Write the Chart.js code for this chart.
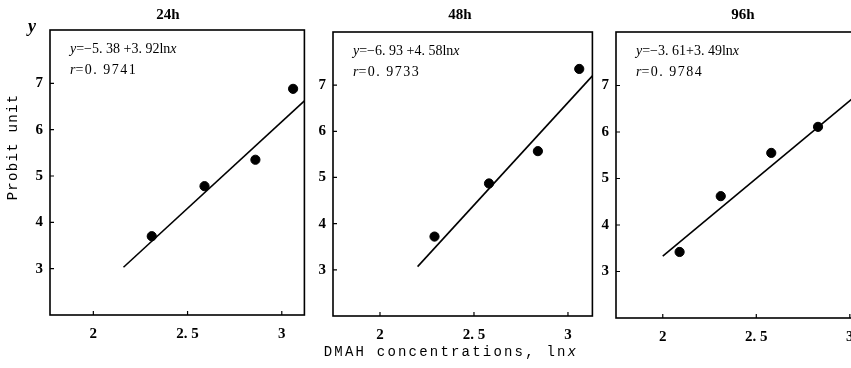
<!DOCTYPE html>
<html>
<head>
<meta charset="utf-8">
<script src="https://cdn.jsdelivr.net/npm/chart.js@4/dist/chart.umd.min.js"></script>
<style>
  html, body { margin: 0; padding: 0; background: #fff; }
  body { position: relative; width: 851px; height: 368px; overflow: hidden; }
  canvas { position: absolute; top: 0; }
  .ylab { position: absolute; left: 28px; top: 16px; font: italic bold 18px 'Liberation Serif', serif; }
  .ytitle { position: absolute; left: 13px; top: 147px; transform: translate(-50%, -50%) rotate(-90deg);
            font: 14px 'Liberation Mono', monospace; letter-spacing: 1.3px; white-space: nowrap; }
  .xtitle { position: absolute; left: 451px; top: 352px; transform: translate(-50%, -50%);
            font: 14px 'Liberation Mono', monospace; letter-spacing: 2.2px; white-space: nowrap; }
</style>
</head>
<body>
<canvas id="c24" width="310" height="345" style="left:0px"></canvas>
<canvas id="c48" width="315" height="345" style="left:283px"></canvas>
<canvas id="c96" width="310" height="345" style="left:566px"></canvas>
<div class="ylab">y</div>
<div class="ytitle">Probit unit</div>
<div class="xtitle">DMAH concentrations, ln<i>x</i></div>
<script>
// panel labels
const titles = ['24h', '48h', '96h'];
const equations = ['=−5. 38 +3. 92ln', '=−6. 93 +4. 58ln', '=−3. 61+3. 49ln'];
const rValues = ['=0. 9741', '=0. 9733', '=0. 9784'];

// observed points (ln x, probit)
const lnx24 = [2.31, 2.59, 2.86, 3.06];
const probit24 = [3.70, 4.78, 5.35, 6.88];
const lnx48 = [2.29, 2.58, 2.84, 3.06];
const probit48 = [3.72, 4.87, 5.57, 7.35];
const lnx96 = [2.09, 2.31, 2.58, 2.83];
const probit96 = [3.42, 4.62, 5.55, 6.11];

// regression line end points
const fitX24 = [2.16, 3.12];
const fitY24 = [3.03, 6.62];
const fitX48 = [2.20, 3.13];
const fitY48 = [3.07, 7.20];
const fitX96 = [2.00, 3.11];
const fitY96 = [3.33, 7.04];

// tick values
const xTicks = [2, 2.5, 3];
const yTicks = [3, 4, 5, 6, 7];

const pair = (xs, ys) => xs.map((v, i) => ({ x: v, y: ys[i] }));

const framePlugin = {
  id: 'frame',
  afterDraw(chart, args, opts) {
    const { ctx, chartArea: a, scales: { x, y } } = chart;
    ctx.save();
    ctx.strokeStyle = '#000';
    ctx.lineWidth = 1.6;
    ctx.strokeRect(a.left, a.top, a.right - a.left, a.bottom - a.top);
    ctx.lineWidth = 1.2;
    ctx.beginPath();
    xTicks.forEach(v => {
      const px = x.getPixelForValue(v);
      ctx.moveTo(px, a.bottom);
      ctx.lineTo(px, a.bottom - 4);
    });
    yTicks.forEach(v => {
      const py = y.getPixelForValue(v);
      ctx.moveTo(a.left, py);
      ctx.lineTo(a.left + 4, py);
    });
    ctx.stroke();

    ctx.fillStyle = '#000';
    ctx.textBaseline = 'middle';
    ctx.textAlign = 'center';
    ctx.font = 'bold 15px "Liberation Serif", serif';
    ctx.fillText(opts.title, a.left + opts.titleDx, 15);

    // equation line: italic y, plain body, italic x
    ctx.textAlign = 'left';
    const italic = 'italic 14px "Liberation Serif", serif';
    const plain = '14px "Liberation Serif", serif';
    let cx = a.left + 20;
    ctx.font = italic;
    ctx.fillText('y', cx, a.top + 19);
    cx += ctx.measureText('y').width;
    ctx.font = plain;
    ctx.fillText(opts.eq, cx, a.top + 19);
    cx += ctx.measureText(opts.eq).width;
    ctx.font = italic;
    ctx.fillText('x', cx, a.top + 19);

    cx = a.left + 20;
    ctx.font = italic;
    ctx.fillText('r', cx, a.top + 40);
    cx += ctx.measureText('r').width;
    ctx.font = plain;
    ctx.letterSpacing = '1.5px';
    ctx.fillText(opts.r, cx, a.top + 40);
    ctx.restore();
  }
};

function makePanel(id, idx, pts, fit, cfg) {
  const canvas = document.getElementById(id);
  return new Chart(canvas, {
    type: 'scatter',
    plugins: [framePlugin],
    data: {
      datasets: [
        {
          data: pts,
          backgroundColor: '#000',
          borderColor: '#000',
          pointRadius: 4.6,
          pointHoverRadius: 4.6
        },
        {
          data: fit,
          showLine: true,
          borderColor: '#000',
          borderWidth: 1.6,
          pointRadius: 0,
          pointHoverRadius: 0
        }
      ]
    },
    options: {
      responsive: false,
      animation: false,
      devicePixelRatio: 1,
      layout: { padding: { top: cfg.top, right: canvas.width - cfg.right, left: 0, bottom: 0 } },
      plugins: {
        legend: { display: false },
        tooltip: { enabled: false },
        frame: { title: titles[idx], titleDx: cfg.titleDx, eq: equations[idx], r: rValues[idx] }
      },
      scales: {
        x: {
          type: 'linear',
          min: cfg.xMin,
          max: cfg.xMax,
          afterFit: s => { s.height = canvas.height - cfg.bottom; },
          afterBuildTicks: s => { s.ticks = xTicks.map(v => ({ value: v })); },
          grid: { display: false, drawTicks: false },
          border: { display: false },
          ticks: {
            padding: 10,
            color: '#000',
            font: { family: '"Liberation Serif", serif', size: 15, weight: 'bold' },
            callback: v => v === 2.5 ? '2. 5' : String(v)
          }
        },
        y: {
          type: 'linear',
          min: 2,
          max: 8.15,
          afterFit: s => { s.width = 50; },
          afterBuildTicks: s => { s.ticks = yTicks.map(v => ({ value: v })); },
          grid: { display: false, drawTicks: false },
          border: { display: false },
          ticks: {
            padding: 7,
            color: '#000',
            font: { family: '"Liberation Serif", serif', size: 15, weight: 'bold' }
          }
        }
      }
    }
  });
}

makePanel('c24', 0, pair(lnx24, probit24), pair(fitX24, fitY24),
  { top: 30, bottom: 315, right: 305, xMin: 1.77, xMax: 3.12, titleDx: 118 });
makePanel('c48', 1, pair(lnx48, probit48), pair(fitX48, fitY48),
  { top: 32, bottom: 316, right: 310, xMin: 1.75, xMax: 3.13, titleDx: 127 });
makePanel('c96', 2, pair(lnx96, probit96), pair(fitX96, fitY96),
  { top: 32, bottom: 318, right: 305, xMin: 1.75, xMax: 3.11, titleDx: 127 });
</script>
</body>
</html>
